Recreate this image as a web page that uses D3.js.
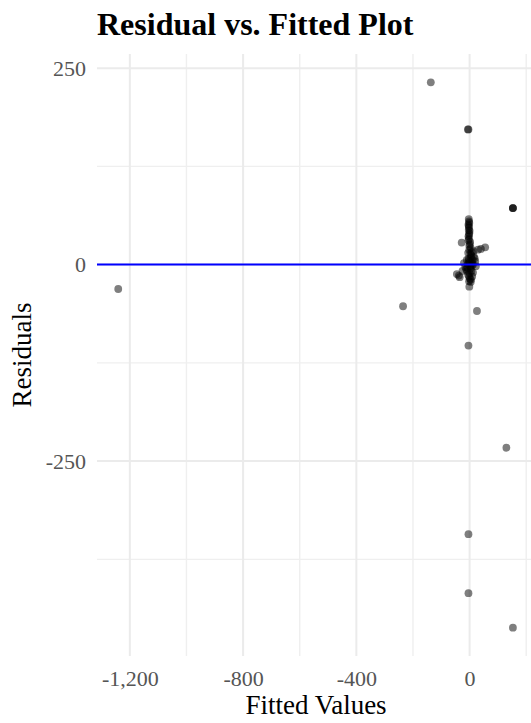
<!DOCTYPE html>
<html>
<head>
<meta charset="utf-8">
<script src="https://cdn.jsdelivr.net/npm/d3@7"></script>
<style>
  html, body { margin: 0; padding: 0; background: #fff; }
  svg { display: block; font-family: "Liberation Serif", "Times New Roman", serif; }
</style>
</head>
<body>
<svg id="chart" width="531" height="723"></svg>
<script>
// Fitted values and residuals of the model
const fitted = [
  -1241, -137, -4, -6, 153, 153, 153, -235, 26, -4, 130, -4, -4, 153,
  -3, -2, -4, -2, -3, -1, -4, -2, -28, 2, -1, 4, 14, 30, 55, -5, 6, -3,
  10, 0, -6, 8, 20, -15, 3, -9, 12, -45, -35, -2, 5, -1, 15, 22, -20,
  -1, -3, 0, -2, -4, 1, -1, 3, 5, -3, 8, 12, 2, -8, -12, 6, 0, -5, 9,
  -25, -38, 4, -2, 18, -10, 1, 40, 7
];
const residuals = [
  -31, 232, 172, 172, 72, 72, 72, -53, -59, -103, -233, -343, -418, -462,
  58, 55, 51, 47, 44, 40, 36, 33, 28, 29, 24, 21, 17, 19, 22, 15, 12, 8,
  6, 3, 1, -1, 4, -3, -5, -8, -10, -12, -16, -15, -19, -28, 10, -2, 2,
  53, 49, 43, 38, 31, 26, 19, 14, 9, 5, 2, 0, -2, -4, -6, -8, -11, -13, -15,
  -8, -14, -22, -21, 8, 6, -18, 20, 16
];

// Axis breaks
const xMajor = [-1200, -800, -400, 0];
const xMinor = [-1000, -600, -200, 200];
const yMajor = [250, 0, -250];
const yMinor = [125, -125, -375];

const svg = d3.select("#chart");
const panel = { left: 97, right: 535, top: 54, bottom: 656 };

const x = d3.scaleLinear().domain([-1316, 231]).range([panel.left, panel.right]);
const y = d3.scaleLinear().domain([-498, 268]).range([panel.bottom, panel.top]);

const fmt = d3.formatLocale({ decimal: ".", thousands: ",", grouping: [3], currency: ["", ""], minus: "-" }).format(",");

svg.append("defs").append("clipPath").attr("id", "panel-clip")
  .append("rect")
  .attr("x", panel.left).attr("y", panel.top)
  .attr("width", panel.right - panel.left).attr("height", panel.bottom - panel.top);

const grid = svg.append("g");

// minor grid
grid.selectAll("line.xminor").data(xMinor).join("line")
  .attr("x1", d => x(d)).attr("x2", d => x(d))
  .attr("y1", panel.top).attr("y2", panel.bottom)
  .attr("stroke", "#efefef").attr("stroke-width", 1.4);
grid.selectAll("line.yminor").data(yMinor).join("line")
  .attr("y1", d => y(d)).attr("y2", d => y(d))
  .attr("x1", panel.left).attr("x2", panel.right)
  .attr("stroke", "#efefef").attr("stroke-width", 1.4);

// major grid
grid.selectAll("line.xmajor").data(xMajor).join("line")
  .attr("x1", d => x(d)).attr("x2", d => x(d))
  .attr("y1", panel.top).attr("y2", panel.bottom)
  .attr("stroke", "#ebebeb").attr("stroke-width", 2);
grid.selectAll("line.ymajor").data(yMajor).join("line")
  .attr("y1", d => y(d)).attr("y2", d => y(d))
  .attr("x1", panel.left).attr("x2", panel.right)
  .attr("stroke", "#ebebeb").attr("stroke-width", 2);

// points
const pts = fitted.map((f, i) => ({ f, r: residuals[i] }));
svg.append("g").attr("clip-path", "url(#panel-clip)")
  .selectAll("circle").data(pts).join("circle")
  .attr("cx", d => x(d.f)).attr("cy", d => y(d.r))
  .attr("r", 3.9)
  .attr("fill", "#000").attr("fill-opacity", 0.5);

// zero reference line
svg.append("line")
  .attr("x1", panel.left).attr("x2", panel.right)
  .attr("y1", y(0)).attr("y2", y(0))
  .attr("stroke", "#0000ff").attr("stroke-width", 2);

// axes (labels only, no axis lines)
const xAxis = svg.append("g")
  .attr("transform", `translate(0,${panel.bottom})`)
  .call(d3.axisBottom(x).tickValues(xMajor).tickFormat(fmt).tickSize(0).tickPadding(0));
xAxis.select(".domain").remove();
xAxis.selectAll("text")
  .attr("dy", null).attr("y", 30)
  .attr("fill", "#555").style("font-size", "22px")
  .style("font-family", "Liberation Serif, serif");

const yAxis = svg.append("g")
  .attr("transform", `translate(${panel.left},0)`)
  .call(d3.axisLeft(y).tickValues(yMajor).tickFormat(fmt).tickSize(0).tickPadding(0));
yAxis.select(".domain").remove();
yAxis.selectAll("text")
  .attr("x", -11).attr("dy", "0.33em")
  .attr("fill", "#555").style("font-size", "22px")
  .style("font-family", "Liberation Serif, serif");

// titles
svg.append("text")
  .attr("x", panel.left).attr("y", 35)
  .attr("font-size", 32).attr("font-weight", "bold").attr("fill", "#000")
  .text("Residual vs. Fitted Plot");

svg.append("text")
  .attr("x", (panel.left + panel.right) / 2).attr("y", 714)
  .attr("text-anchor", "middle").attr("font-size", 27).attr("fill", "#000")
  .text("Fitted Values");

svg.append("text")
  .attr("transform", `translate(31,${(panel.top + panel.bottom) / 2}) rotate(-90)`)
  .attr("text-anchor", "middle").attr("font-size", 27).attr("fill", "#000")
  .text("Residuals");
</script>
</body>
</html>
